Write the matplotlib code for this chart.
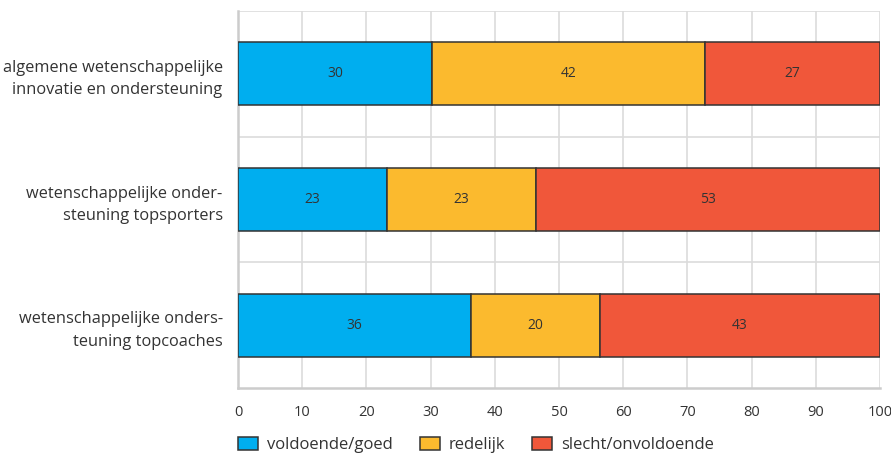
import matplotlib.pyplot as plt
from matplotlib.patches import Patch

# data
categories = ["algemene wetenschappelijke\ninnovatie en ondersteuning",
              "wetenschappelijke onder-\nsteuning topsporters",
              "wetenschappelijke onders-\nteuning topcoaches"]
series = ["voldoende/goed", "redelijk", "slecht/onvoldoende"]
goed = [30.2, 23.2, 36.3]
redelijk = [42.5, 23.2, 20.1]
slecht = [27.3, 53.6, 43.6]
labels_goed = ["30", "23", "36"]
labels_redelijk = ["42", "23", "20"]
labels_slecht = ["27", "53", "43"]
xticks = [0, 10, 20, 30, 40, 50, 60, 70, 80, 90, 100]

colors = ["#00aeef", "#fbba2e", "#f0573a"]
txt = "#333333"
plt.rcParams['font.family'] = ['Open Sans', 'DejaVu Sans']

fig = plt.figure(figsize=(8.91, 4.55), dpi=100)
ax = fig.add_axes([238/891, 67/455, 642/891, 377/455])

ypos = list(range(len(categories)))
left = [0] * len(categories)
for vals, labs, c in zip([goed, redelijk, slecht],
                         [labels_goed, labels_redelijk, labels_slecht], colors):
    bars = ax.barh(ypos, vals, left=left, height=0.5, color=c,
                   edgecolor="#333333", linewidth=1.1, zorder=3)
    ax.bar_label(bars, labels=labs, label_type="center", fontsize=10, color=txt)
    left = [l + v for l, v in zip(left, vals)]

ax.set_xlim(0, 100)
ax.set_ylim(2.5, -0.5)
ax.set_xticks(xticks)
ax.set_yticks(ypos)
ax.set_yticklabels(categories, fontsize=11.8, color=txt, ha="right", linespacing=1.55)
ax.set_yticks([-0.5, 0.5, 1.5], minor=True)
ax.tick_params(axis="both", which="both", length=0)
ax.tick_params(axis="x", labelsize=10.5, labelcolor=txt, pad=12)
ax.tick_params(axis="y", pad=11)
ax.grid(axis="x", color="#dcdcdc", linewidth=1.2, zorder=0)
ax.grid(axis="y", which="minor", color="#dcdcdc", linewidth=1.2, zorder=0)
for s in ["top", "right"]:
    ax.spines[s].set_visible(False)
for s in ["left", "bottom"]:
    ax.spines[s].set_color("#cccccc")
    ax.spines[s].set_linewidth(1.8)

handles = [Patch(facecolor=c, edgecolor="#333333", linewidth=1.1, label=s)
           for c, s in zip(colors, series)]
fig.legend(handles=handles, loc="lower left", bbox_to_anchor=(238/891, 2/455),
           borderaxespad=0, borderpad=0, ncol=3, frameon=False, fontsize=12,
           handlelength=1.2, handleheight=0.8, handletextpad=0.55,
           columnspacing=1.6, labelcolor=txt)

fig.savefig("out.png", dpi=100)
